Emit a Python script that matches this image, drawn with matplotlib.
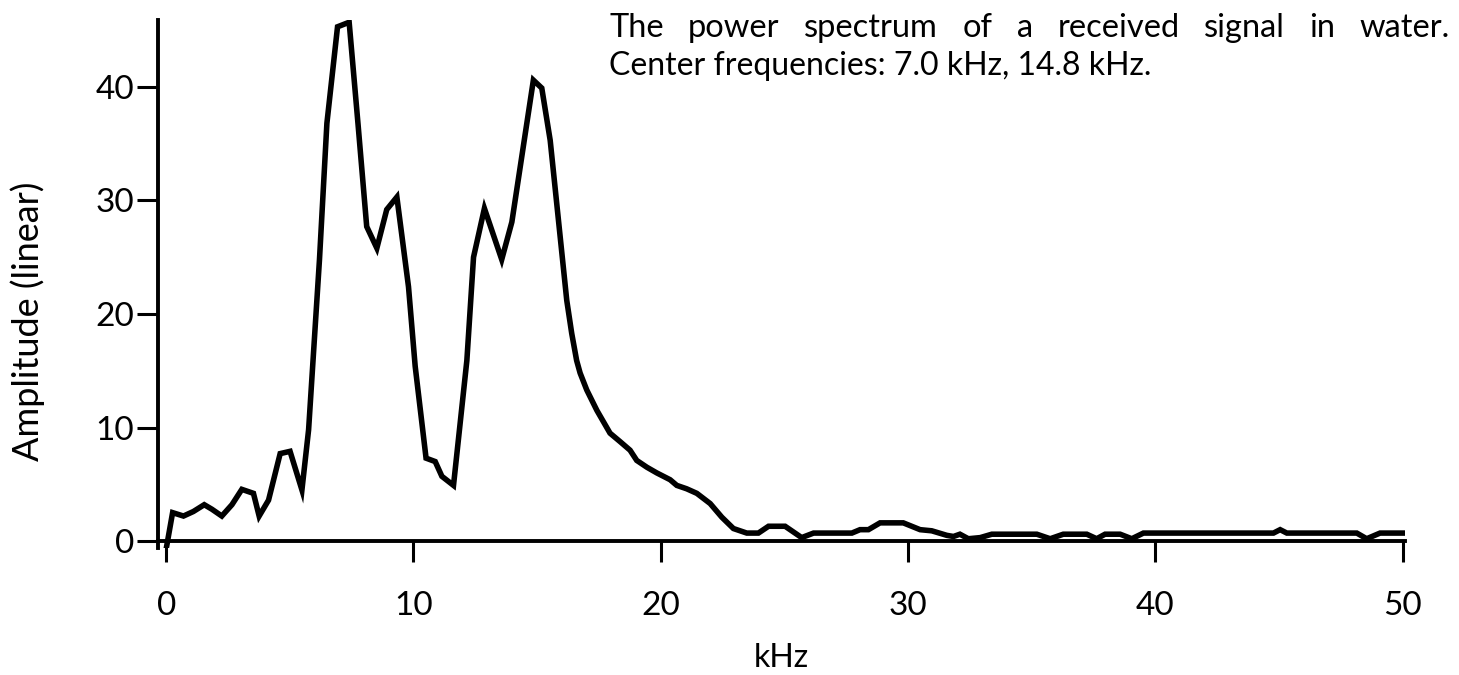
import numpy as np
import matplotlib
matplotlib.use("Agg")
import matplotlib.pyplot as plt

# Spectrum samples (kHz, linear amplitude)
freq_khz = [0.0, 0.26, 0.70, 1.10, 1.54, 1.85, 2.25, 2.66, 3.06, 3.53, 3.76,
            4.14, 4.61, 5.01, 5.49, 5.76, 6.20, 6.50, 6.93, 7.40, 7.76,
            8.11, 8.52, 8.92, 9.33, 9.80, 10.07, 10.51, 10.88, 11.15, 11.62,
            12.16, 12.43, 12.87, 13.57, 13.98, 14.85, 15.19, 15.53, 16.20,
            16.40, 16.60, 16.74, 17.01, 17.42, 17.95, 18.36, 18.76, 19.03,
            19.44, 19.84, 20.38, 20.65, 21.05, 21.46, 22.00, 22.47, 22.94,
            23.48, 23.95, 24.36, 25.03, 25.70, 26.18, 27.73, 28.06, 28.40,
            28.87, 29.81, 30.49, 30.96, 31.57, 31.84, 32.10, 32.44, 32.92,
            33.39, 35.21, 35.75, 36.28, 37.23, 37.63, 37.97, 38.58, 39.05,
            39.52, 44.78, 45.05, 45.32, 48.15, 48.55, 49.09, 50.10]
amplitude = [-0.7, 2.5, 2.2, 2.6, 3.2, 2.8, 2.2, 3.2, 4.55, 4.2, 2.2,
             3.6, 7.7, 7.9, 4.5, 9.8, 24.8, 36.8, 45.3, 45.7, 36.7,
             27.7, 25.8, 29.2, 30.3, 22.4, 15.4, 7.3, 7.0, 5.7, 4.9,
             15.9, 25.0, 29.3, 24.8, 28.1, 40.6, 39.9, 35.3, 21.2,
             18.3, 15.9, 14.8, 13.3, 11.5, 9.5, 8.75, 8.0, 7.1,
             6.5, 6.0, 5.4, 4.9, 4.6, 4.2, 3.3, 2.1, 1.1,
             0.7, 0.7, 1.3, 1.3, 0.3, 0.7, 0.7, 1.0, 1.0,
             1.6, 1.6, 1.0, 0.9, 0.5, 0.4, 0.6, 0.2, 0.3,
             0.6, 0.6, 0.2, 0.6, 0.6, 0.2, 0.6, 0.6, 0.2,
             0.7, 0.7, 1.0, 0.7, 0.7, 0.2, 0.7, 0.7]

x_ticks = [0, 10, 20, 30, 40, 50]
y_ticks = [0, 10, 20, 30, 40]

title_lines = ["The power spectrum of a received signal in water.",
               "Center frequencies: 7.0 kHz, 14.8 kHz."]

plt.rcParams['font.family'] = ['Lato', 'DejaVu Sans']

W, H = 1459, 675
fig = plt.figure(figsize = (W / 100, H / 100), dpi = 100)
ax = fig.add_axes([0.1083, 0.1884, 0.8547, 0.782])

ax.plot(freq_khz, amplitude, color = 'black', linewidth = 4.0,
        solid_joinstyle = 'miter', zorder = 3)

ax.set_xlim(-0.33, 50.1)
ax.set_ylim(-0.6, 45.9)

# Axis lines only: x-axis sits on zero, y-axis on the left edge
for side in ['top', 'right']:
    ax.spines[side].set_visible(False)
ax.spines['bottom'].set_position(('data', 0))
ax.spines['bottom'].set_linewidth(2.8)
ax.spines['left'].set_linewidth(2.8)
ax.spines['bottom'].set_zorder(2)

ax.set_xticks(x_ticks)
ax.set_yticks(y_ticks)
ax.tick_params(axis = 'both', direction = 'out', length = 15, width = 2.2,
               labelsize = 24, color = 'black')
ax.tick_params(axis = 'x', pad = 21)
ax.tick_params(axis = 'y', pad = 2)

ax.set_xlabel("kHz", fontsize = 23, labelpad = 16)
ax.set_ylabel("Amplitude (linear)", fontsize = 26)
ax.yaxis.set_label_coords(-0.091, 0.43)

# Caption: first line spread to a fixed width, second line set normally
renderer = fig.canvas.get_renderer()
left_px, right_px = 609, 1450
words = title_lines[0].split()
widths = []
for w in words:
    t = fig.text(0, 0, w, fontsize = 23.5)
    widths.append(t.get_window_extent(renderer).width)
    t.remove()
gap = (right_px - left_px - sum(widths)) / (len(words) - 1)
x = left_px
for w, wd in zip(words, widths):
    fig.text(x / W, 1 - 28 / H, w, fontsize = 23.5, ha = 'left', va = 'center')
    x += wd + gap

fig.text(left_px / W, 1 - 66 / H, title_lines[1], fontsize = 23,
         ha = 'left', va = 'center')

fig.savefig("out.png", dpi = 100, facecolor = 'white')
